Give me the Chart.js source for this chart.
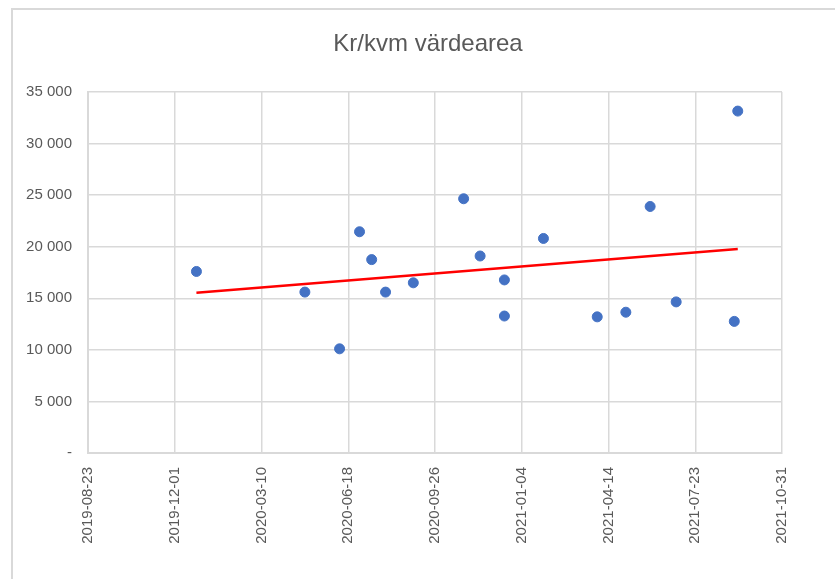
<!DOCTYPE html>
<html>
<head>
<meta charset="utf-8">
<script src="https://cdn.jsdelivr.net/npm/chart.js@4"></script>
<style>
  html, body { margin: 0; padding: 0; background: #fff; }
  #wrap { position: relative; width: 835px; height: 579px; }
</style>
</head>
<body>
<div id="wrap"><canvas id="scatter-chart"></canvas></div>
<script>
// Data
const title = "Kr/kvm värdearea";
const axisStart = "2019-08-23";
const axisEnd = "2021-10-31";
const tickStepDays = 100;
const yTicks = [0, 5000, 10000, 15000, 20000, 25000, 30000, 35000];

const dates = [
  "2019-12-26", "2020-04-29", "2020-06-08", "2020-07-01", "2020-07-15",
  "2020-07-31", "2020-09-01", "2020-10-29", "2020-11-17", "2020-12-15",
  "2020-12-15", "2021-01-29", "2021-04-01", "2021-05-04", "2021-06-01",
  "2021-07-01", "2021-09-06", "2021-09-10"
];
const values = [
  17600, 15600, 10100, 21450, 18750,
  15600, 16500, 24650, 19100, 16780,
  13280, 20800, 13200, 13650, 23900,
  14650, 12760, 33150
];

// Trendline end points (as drawn)
const trendDates = ["2019-12-26", "2021-09-10"];
const trendValues = [15540, 19780];

const DAY = 86400000;
function startParts() {
  const p = axisStart.split("-").map(Number);
  return [p[0], p[1] - 1, p[2]];
}
function toDay(s) {
  const p = s.split("-").map(Number);
  return (Date.UTC(p[0], p[1] - 1, p[2]) - Date.UTC(...startParts())) / DAY;
}
function fmtDay(d) {
  const t = new Date(Date.UTC(...startParts()) + d * DAY);
  const mm = String(t.getUTCMonth() + 1).padStart(2, "0");
  const dd = String(t.getUTCDate()).padStart(2, "0");
  return t.getUTCFullYear() + "-" + mm + "-" + dd;
}
function fmtNum(v) {
  if (v === 0) return "-";
  return String(v).replace(/\B(?=(\d{3})+(?!\d))/g, " ");
}

const points = dates.map((d, i) => ({ x: toDay(d), y: values[i] }));
const trend = trendDates.map((d, i) => ({ x: toDay(d), y: trendValues[i] }));

let canvas = document.getElementById("scatter-chart");
canvas.width = 835;
canvas.height = 579;
canvas.style.width = "835px";
canvas.style.height = "579px";

// light frame round the whole chart
const frame = {
  id: "frame",
  beforeDraw(chart) {
    const c = chart.ctx;
    c.save();
    c.strokeStyle = "#d9d9d9";
    c.lineWidth = 2;
    c.beginPath();
    c.moveTo(12, 579);
    c.lineTo(12, 9);
    c.lineTo(835, 9);
    c.stroke();
    c.restore();
  }
};

const gridColor = "#d9d9d9";
const labelColor = "#595959";
const font = "'Liberation Sans', Arial, sans-serif";

new Chart(canvas.getContext("2d"), {
  type: "scatter",
  data: {
    datasets: [
      {
        label: "Kr/kvm",
        data: points,
        backgroundColor: "#4472C4",
        borderColor: "#4472C4",
        pointRadius: 5,
        pointHoverRadius: 5,
        order: 1
      },
      {
        label: "Trend",
        type: "line",
        data: trend,
        borderColor: "#FF0000",
        borderWidth: 2.5,
        pointRadius: 0,
        fill: false,
        order: 2
      }
    ]
  },
  options: {
    responsive: false,
    animation: false,
    layout: { padding: { left: 21, right: 0, top: 0, bottom: 0 } },
    plugins: {
      legend: { display: false },
      tooltip: { enabled: false },
      title: {
        display: true,
        text: title,
        color: labelColor,
        font: { family: font, size: 24, weight: "normal", lineHeight: 1.2 },
        padding: { top: 30, bottom: 33.2 }
      }
    },
    scales: {
      x: {
        type: "linear",
        min: 0,
        max: toDay(axisEnd),
        grid: { color: gridColor, lineWidth: 1.5, drawTicks: false },
        border: { color: gridColor, width: 2 },
        ticks: {
          stepSize: tickStepDays,
          minRotation: 90,
          maxRotation: 90,
          padding: 14,
          color: labelColor,
          font: { family: font, size: 15 },
          callback: (v) => fmtDay(v)
        },
        afterFit: (s) => { s.height = 126; }
      },
      y: {
        min: yTicks[0],
        max: yTicks[yTicks.length - 1],
        grid: { color: gridColor, lineWidth: 1.5, drawTicks: false },
        border: { color: gridColor, width: 2 },
        ticks: {
          stepSize: yTicks[1] - yTicks[0],
          padding: 16,
          color: labelColor,
          font: { family: font, size: 15 },
          callback: (v) => fmtNum(v)
        },
        afterFit: (s) => { s.width = 67; }
      },
      // empty space on the right side of the plot
      yRight: {
        position: "right",
        display: true,
        grid: { display: false, drawTicks: false },
        border: { display: false },
        ticks: { display: false },
        afterFit: (s) => { s.width = 53; }
      }
    }
  },
  plugins: [frame]
});
</script>
</body>
</html>
